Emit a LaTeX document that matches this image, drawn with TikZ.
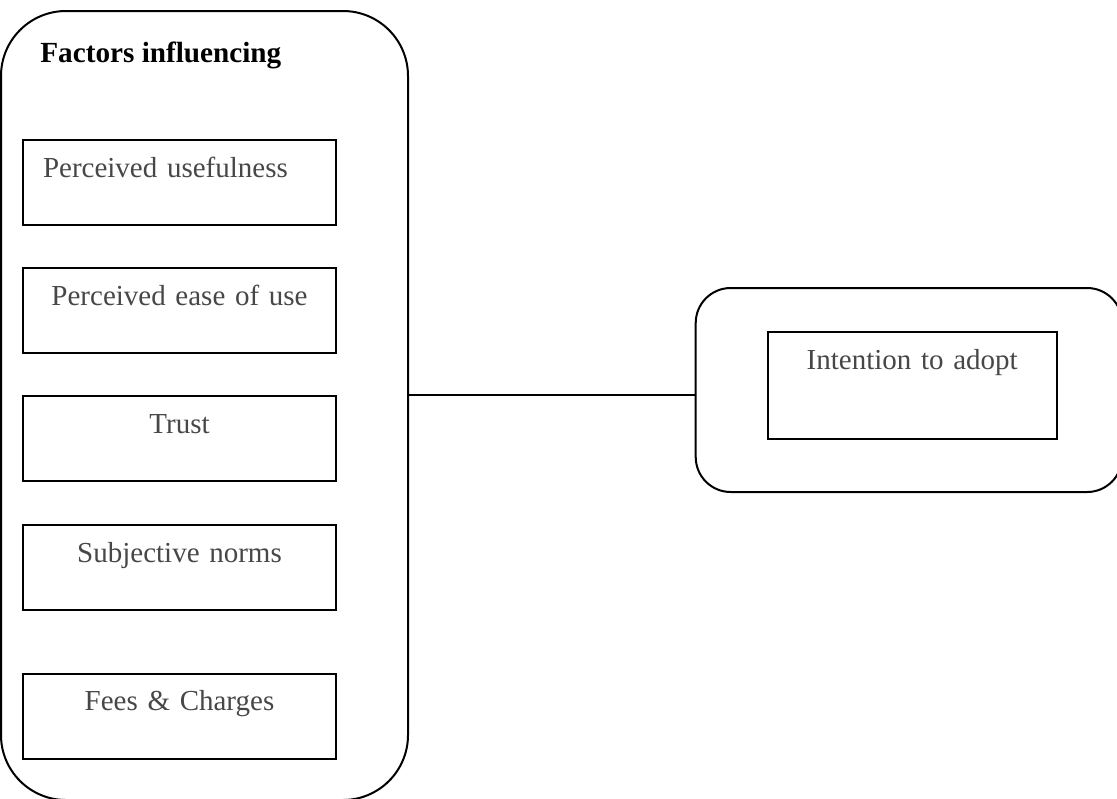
\documentclass[tikz,border=0pt]{standalone}
\usepackage{fontspec}
\setmainfont{Liberation Serif}
\begin{document}
\begin{tikzpicture}[x=0.5pt, y=-0.5pt,
    group/.style={draw, line width=1pt, rounded corners=#1, inner sep=0pt},
    factor/.style={draw, line width=1pt, anchor=north, inner xsep=10pt, inner ysep=0pt,
      text width=136.5pt, align=center, text height=18.5pt, text depth=24pt,
      text=black!72, font=\fontsize{14.5}{17}\selectfont}]
  \useasboundingbox (0,0) rectangle (1117,798);
  % containers
  \node[group=32.5pt, minimum width=203.5pt, minimum height=394.5pt] (factors) at (204.5,405.5) {};
  \node[group=17.5pt, minimum width=213.2pt, minimum height=102pt] (intention) at (908.9,390) {};
  \node[anchor=base west, inner sep=0pt, font=\fontsize{14.6}{17}\selectfont\bfseries] (title) at (40,62) {Factors influencing};
  % factor boxes
  \node[factor, align=left] (pu) at (179.5,139) {Perceived usefulness};
  \node[factor] (peou) at (179.5,267) {Perceived ease of use};
  \node[factor] (trust) at (179.5,395) {Trust};
  \node[factor] (sn) at (179.5,524) {Subjective norms};
  \node[factor] (fees) at (179.5,672.5) {Fees \& Charges};
  \node[factor, text width=124.5pt, text depth=35pt] (adopt) at (912.2,331) {Intention to adopt};
  % link
  \draw[line width=1pt] ([yshift=5.25pt]factors.east) -- ([yshift=5.25pt]factors.east -| intention.west);
\end{tikzpicture}
\end{document}
